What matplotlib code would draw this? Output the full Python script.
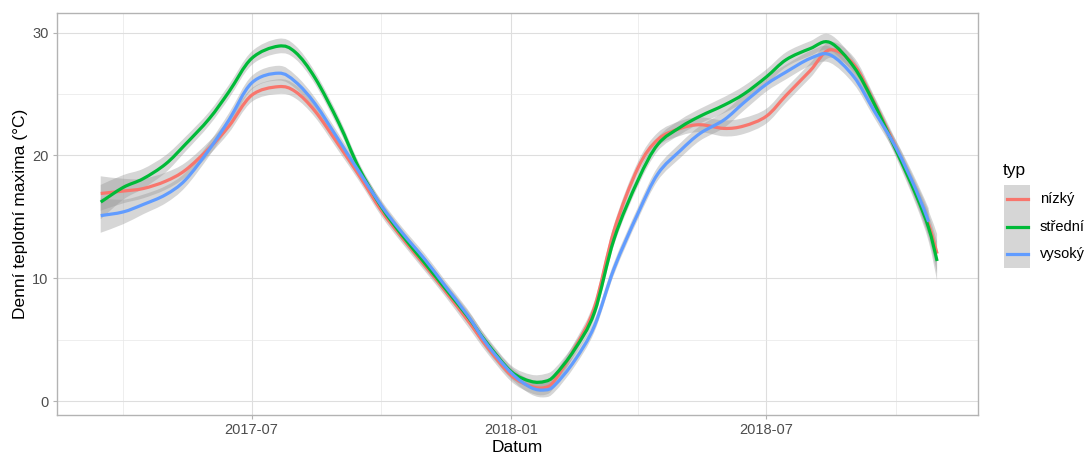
import numpy as np
import pandas as pd
import matplotlib
matplotlib.use("Agg")
import matplotlib.pyplot as plt
import matplotlib.dates as mdates
from matplotlib.patches import Rectangle, PathPatch
from matplotlib.lines import Line2D
from matplotlib.path import Path

plt.rcParams['font.family'] = ['Liberation Sans', 'DejaVu Sans']

# Data (geom_smooth) of the reference
datum = ['2017-03-16', '2017-04-01', '2017-04-15', '2017-05-01', '2017-05-15',
         '2017-06-01', '2017-06-15', '2017-07-01', '2017-07-20', '2017-08-01',
         '2017-08-15', '2017-09-01', '2017-09-15', '2017-10-01', '2017-10-15',
         '2017-11-01', '2017-11-15', '2017-12-01', '2017-12-15', '2018-01-01',
         '2018-01-15', '2018-01-25', '2018-02-01', '2018-02-15', '2018-03-01',
         '2018-03-15', '2018-04-01', '2018-04-15', '2018-05-01', '2018-05-15',
         '2018-06-01', '2018-06-15', '2018-07-01', '2018-07-15', '2018-08-01',
         '2018-08-15', '2018-09-01', '2018-09-15', '2018-10-01', '2018-10-15',
         '2018-10-24', '2018-10-30']

nizky = [16.9, 17.1, 17.3, 17.9, 18.8, 20.6, 22.4, 24.9, 25.6, 25.2,
         23.6, 20.8, 18.4, 15.5, 13.4, 11.0, 9.0, 6.6, 4.4, 2.1,
         1.2, 1.1, 1.7, 4.3, 7.6, 13.9, 19.0, 21.3, 22.2, 22.5,
         22.2, 22.4, 23.2, 24.9, 26.9, 28.6, 27.4, 24.4, 20.6, 17.0,
         14.4, 12.0]
stredni = [16.2, 17.4, 18.1, 19.3, 20.9, 23.0, 25.2, 27.9, 28.9, 28.4,
           26.3, 22.6, 19.0, 15.8, 13.6, 11.2, 9.2, 6.9, 4.7, 2.4,
           1.6, 1.6, 2.1, 4.2, 7.2, 13.2, 18.0, 20.9, 22.3, 23.2,
           24.1, 25.0, 26.4, 27.8, 28.7, 29.2, 27.2, 24.3, 20.4, 16.8,
           14.1, 11.4]
vysoky = [15.1, 15.4, 16.0, 16.8, 18.0, 20.5, 22.9, 25.9, 26.7, 26.0,
          24.2, 21.2, 18.7, 15.9, 13.8, 11.5, 9.4, 7.0, 4.6, 2.3,
          1.1, 0.9, 1.3, 3.3, 6.1, 10.8, 15.3, 18.5, 20.4, 21.8,
          22.9, 24.3, 25.8, 26.8, 27.9, 28.2, 26.4, 23.7, 20.6, 17.2,
          14.6, np.nan]
# half-width of the confidence band
pas = [1.4, 1.0, 0.8, 0.7, 0.6, 0.55, 0.55, 0.55, 0.6, 0.55,
       0.5, 0.5, 0.45, 0.45, 0.45, 0.45, 0.45, 0.5, 0.5, 0.5,
       0.55, 0.6, 0.55, 0.5, 0.5, 0.5, 0.5, 0.55, 0.6, 0.6,
       0.65, 0.65, 0.6, 0.6, 0.6, 0.65, 0.6, 0.55, 0.6, 0.8,
       1.1, 1.6]

typy = ['nízký', 'střední', 'vysoký']
barvy = ['#F8766D', '#00BA38', '#619CFF']

x = mdates.date2num(pd.to_datetime(datum))
serie = [np.array(nizky), np.array(stredni), np.array(vysoky)]
pas = np.array(pas)


def hladka(xs, ys, start=True):
    # Catmull-Rom -> cubic Bezier segments, drawn by matplotlib's Path
    p = np.column_stack([xs, ys])
    ext = np.vstack([p[0], p, p[-1]])
    verts = [p[0]] if start else []
    codes = [Path.MOVETO] if start else []
    for i in range(len(p) - 1):
        a, b, c, d = ext[i], ext[i + 1], ext[i + 2], ext[i + 3]
        verts += [b + (c - a) / 6, c - (d - b) / 6, c]
        codes += [Path.CURVE4] * 3
    return verts, codes


W, H = 1086, 455
fig = plt.figure(figsize=(W / 100, H / 100), dpi=100)
ax = fig.add_axes([57 / W, 1 - 415 / H, (978 - 57) / W, (415 - 13) / H])

for y in serie:
    ok = ~np.isnan(y)
    xv, yv, pv = x[ok], y[ok], pas[ok]
    v1, c1 = hladka(xv, yv + pv)
    v2, c2 = hladka(xv[::-1], (yv - pv)[::-1], start=False)
    verts = v1 + [np.array([xv[-1], yv[-1] - pv[-1]])] + v2 + [v1[0]]
    codes = c1 + [Path.LINETO] + c2 + [Path.CLOSEPOLY]
    ax.add_patch(PathPatch(Path(verts, codes), facecolor='#999999', alpha=0.4,
                           edgecolor='none', zorder=2))
for y, c in zip(serie, barvy):
    ok = ~np.isnan(y)
    v, cd = hladka(x[ok], y[ok])
    ax.add_patch(PathPatch(Path(v, cd), facecolor='none', edgecolor=c,
                           linewidth=2.3, zorder=3, capstyle='butt'))

ax.set_xlim(mdates.date2num(pd.Timestamp('2017-02-13')),
            mdates.date2num(pd.Timestamp('2018-11-28')))
ax.set_ylim(-1.14, 31.6)
ax.xaxis_date()

ax.xaxis.set_major_locator(mdates.MonthLocator(bymonth=[1, 7]))
ax.xaxis.set_minor_locator(mdates.MonthLocator(bymonth=[4, 10]))
ax.xaxis.set_major_formatter(mdates.DateFormatter('%Y-%m'))
ax.set_yticks([0, 10, 20, 30])
ax.set_yticks([5, 25], minor=True)

ax.grid(True, which='major', color='#DEDEDE', linewidth=0.8, zorder=0)
ax.grid(True, which='minor', color='#E8E8E8', linewidth=0.5, zorder=0)
ax.set_axisbelow(True)
for s in ax.spines.values():
    s.set_color('#B3B3B3')
    s.set_linewidth(1.0)

ax.tick_params(which='major', length=3, color='#B3B3B3', labelsize=10.5,
               labelcolor='#4D4D4D', pad=3)
ax.tick_params(which='minor', length=0)

ax.set_xlabel('Datum', fontsize=12.5, labelpad=2)
ax.set_ylabel('Denní teplotní maxima (°C)', fontsize=12.5, labelpad=3)

# legend drawn by hand (ggplot style keys)
tf = fig.transFigure
fig.text(1003 / W, 1 - 170 / H, 'typ', fontsize=12.5, va='center', ha='left')
for i, (t, c) in enumerate(zip(typy, barvy)):
    y0 = 185 + i * 27.7
    fig.add_artist(Rectangle((1004 / W, 1 - (y0 + 27.7) / H), 26 / W, 27.7 / H,
                             transform=tf, facecolor='#D6D6D6', edgecolor='none'))
    yc = 1 - (y0 + 13.85) / H
    fig.add_artist(Line2D([1007 / W, 1028 / W], [yc, yc], transform=tf,
                          color=c, linewidth=2.3))
    fig.text(1040 / W, yc, t, fontsize=10.5, va='center', ha='left')

fig.savefig('out.png', dpi=100)
